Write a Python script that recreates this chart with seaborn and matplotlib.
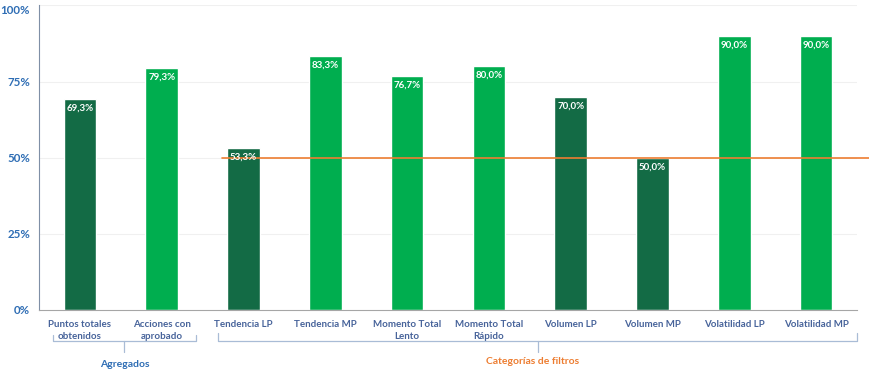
import matplotlib
matplotlib.use("Agg")
import matplotlib.pyplot as plt
import matplotlib.transforms as mtransforms
import seaborn as sns
import pandas as pd

# ---- data ----
categories = ["Puntos totales\nobtenidos", "Acciones con\naprobado", "Tendencia LP", "Tendencia MP",
              "Momento Total\nLento", "Momento Total\nRápido", "Volumen LP", "Volumen MP",
              "Volatilidad LP", "Volatilidad MP"]
values = [69.3, 79.3, 53.3, 83.3, 76.7, 80.0, 70.0, 50.0, 90.0, 90.0]
shade = ["dark", "light", "dark", "light", "light", "light", "dark", "dark", "light", "light"]
value_labels = ["69,3%", "79,3%", "53,3%", "83,3%", "76,7%", "80,0%", "70,0%", "50,0%", "90,0%", "90,0%"]
y_ticks = [0, 25, 50, 75, 100]
y_tick_labels = ["0%", "25%", "50%", "75%", "100%"]
threshold = 50
group_names = ["Agregados", "Categorías de filtros"]

DARK = "#136B45"
LIGHT = "#00AE4F"
ORANGE = "#ED7D31"
BLUE = "#2E6DB4"
XBLUE = "#47639A"
BRACKET = "#A9BCD6"

sns.set_theme(style="white")
plt.rcParams["font.family"] = ["Lato", "DejaVu Sans"]

df = pd.DataFrame({"cat": categories, "val": values, "shade": shade})

fig = plt.figure(figsize=(8.69, 3.70), dpi=100)
ax = fig.add_axes([0.0449, 0.1622, 0.9413, 0.8232])

sns.barplot(data=df, x="cat", y="val", hue="shade", palette={"dark": DARK, "light": LIGHT},
            width=0.4, dodge=False, legend=False, ax=ax, saturation=1)

ax.set_ylim(0, 100)
ax.set_xlim(-0.5, 9.5)
ax.set_yticks(y_ticks)
ax.set_yticklabels(y_tick_labels, color=BLUE, fontsize=8.3, fontweight="bold")
ax.tick_params(axis="y", length=0, pad=6.5)
ax.tick_params(axis="x", length=0, pad=7)
# nudge the top label slightly so it stays inside the image
top_lab = ax.get_yticklabels()[-1]
top_lab.set_transform(top_lab.get_transform() +
                      mtransforms.ScaledTranslation(0, -3 / 72, fig.dpi_scale_trans))
for lab in ax.get_xticklabels():
    lab.set_color(XBLUE)
    lab.set_fontsize(7)
    lab.set_fontweight("bold")
    lab.set_linespacing(1.45)
ax.set_xlabel("")
ax.set_ylabel("")

for y in y_ticks[1:]:
    ax.axhline(y, color="#F0F0F0", lw=0.8, zorder=0)

for s in ["top", "right"]:
    ax.spines[s].set_visible(False)
ax.spines["left"].set_color("#7F8FA6")
ax.spines["left"].set_linewidth(0.8)
ax.spines["bottom"].set_color("#A6A6A6")
ax.spines["bottom"].set_linewidth(0.8)

# value labels
for i, (v, t) in enumerate(zip(values, value_labels)):
    ax.annotate(t, (i, v), xytext=(0, -6.5), textcoords="offset points", ha="center", va="center",
                color="white", fontsize=7, fontweight="bold", zorder=5)

# threshold line
ax.plot([1.74, 9.66], [threshold, threshold], color=ORANGE, lw=1.2, clip_on=False, zorder=4)

# group brackets
tr = mtransforms.blended_transform_factory(ax.transData, fig.transFigure)
def bracket(x0, x1, xm, ytop):
    yl = 0.078
    ax.plot([x0, x0, x1, x1], [ytop, yl, yl, ytop], color=BRACKET, lw=0.9, transform=tr, clip_on=False)
    ax.plot([xm, xm], [yl, 0.05], color=BRACKET, lw=0.9, transform=tr, clip_on=False)

bracket(-0.33, 1.42, 0.54, 0.095)
bracket(1.69, 9.5, 5.6, 0.10)
ax.text(0.55, 0.016, group_names[0], transform=tr, ha="center", va="center", color=BLUE,
        fontsize=7.5, fontweight="bold")
ax.text(5.53, 0.022, group_names[1], transform=tr, ha="center", va="center", color=ORANGE,
        fontsize=7.5, fontweight="bold")

fig.savefig("out.png", dpi=100)
